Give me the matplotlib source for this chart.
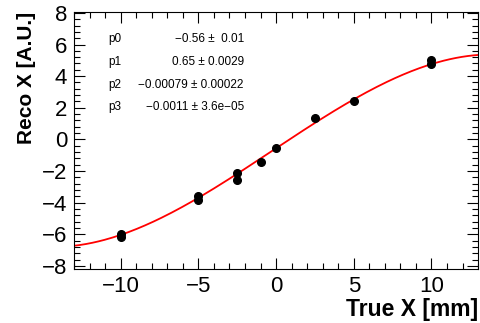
import numpy as np
import matplotlib
matplotlib.use("Agg")
import matplotlib.pyplot as plt
from matplotlib.ticker import MultipleLocator

plt.rcParams['font.family'] = ['Liberation Sans', 'DejaVu Sans']

# measured points
true_x = [-10, -10, -5, -5, -2.5, -2.5, -1, 0, 2.5, 5, 10, 10]
reco_x = [-6.0, -6.2, -3.6, -3.85, -2.1, -2.55, -1.4, -0.55, 1.35, 2.45, 5.0, 4.75]

# fit parameters (pol3)
par_names = ["p0", "p1", "p2", "p3"]
par_vals = [-0.56, 0.65, -0.00079, -0.0011]
par_text = ["\u22120.56 \u00b1  0.01", "0.65 \u00b1 0.0029",
            "\u22120.00079 \u00b1 0.00022", "\u22120.0011 \u00b1 3.6e\u221205"]

fig = plt.figure(figsize=(4.81, 3.23), dpi=100)
ax = fig.add_axes([0.154, 0.167, 0.840, 0.796])

xf = np.linspace(-13, 13, 200)
yf = par_vals[0] + par_vals[1]*xf + par_vals[2]*xf**2 + par_vals[3]*xf**3
ax.plot(xf, yf, color='red', lw=1.3, zorder=2)
ax.plot(true_x, reco_x, 'o', color='black', ms=5.5, zorder=3)

ax.set_xlim(-13, 13)
ax.set_ylim(-8.2, 8.06)
ax.xaxis.set_major_locator(MultipleLocator(5))
ax.xaxis.set_minor_locator(MultipleLocator(1))
ax.yaxis.set_major_locator(MultipleLocator(2))
ax.yaxis.set_minor_locator(MultipleLocator(0.4))
ax.tick_params(which='both', direction='in', top=True, right=True, labelsize=16, width=0.8)
ax.tick_params(which='major', length=8)
ax.tick_params(which='minor', length=4)
ax.tick_params(axis='x', pad=5)
ax.tick_params(axis='y', pad=5)

ax.set_xlabel("True X [mm]", fontsize=16.5, fontweight='bold', loc='right', labelpad=1)
ax.set_ylabel("Reco X [A.U.]", fontsize=15, fontweight='bold', loc='top', labelpad=4)

for i in range(4):
    yy = 0.893 - i*0.088
    ax.text(0.084, yy, par_names[i], transform=ax.transAxes, fontsize=8.5, va='center')
    ax.text(0.42, yy, par_text[i], transform=ax.transAxes, fontsize=8.5, va='center', ha='right')

fig.savefig("out.png", dpi=100)
